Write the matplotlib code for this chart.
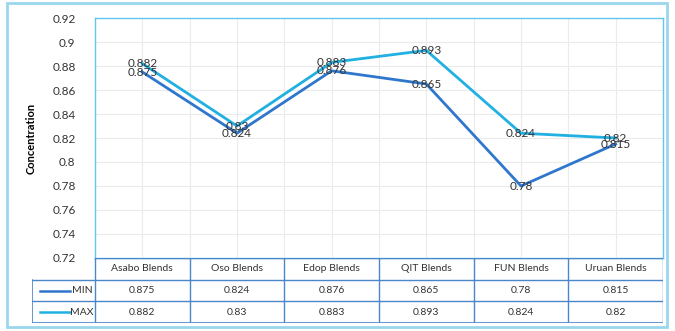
import matplotlib.pyplot as plt
from matplotlib.patches import Rectangle
from matplotlib.lines import Line2D

plt.rcParams["font.family"] = ["Lato", "DejaVu Sans"]

CATEGORIES = ["Asabo Blends", "Oso Blends", "Edop Blends", "QIT Blends", "FUN Blends", "Uruan Blends"]
MIN_VALS = [0.875, 0.824, 0.876, 0.865, 0.78, 0.815]
MAX_VALS = [0.882, 0.83, 0.883, 0.893, 0.824, 0.82]
SERIES = [("MIN", MIN_VALS, "#2f77cc"), ("MAX", MAX_VALS, "#21b0e2")]
YTICKS = [0.72, 0.74, 0.76, 0.78, 0.8, 0.82, 0.84, 0.86, 0.88, 0.9, 0.92]

W, H = 675, 331
fig = plt.figure(figsize=(W / 100, H / 100), dpi=100)


def box(x0, y0, x1, y1):
    # pixel box (top-left origin) -> figure fraction rect
    return [x0 / W, 1 - y1 / H, (x1 - x0) / W, (y1 - y0) / H]


# outer chart frame
fig.patches.append(Rectangle((7 / W, 4 / H), 660 / W, 324 / H, transform=fig.transFigure,
                             fill=False, edgecolor="#9ad6ee", linewidth=2))

ax = fig.add_axes(box(95, 18, 663, 258))
n = len(CATEGORIES)
xs = list(range(n))
for name, vals, color in SERIES:
    ax.plot(xs, vals, color=color, linewidth=2, zorder=3)
    for x, v in zip(xs, vals):
        ax.text(x, v, f"{v:g}", ha="center", va="center", fontsize=8.5, color="#333333", zorder=4)

ax.set_xlim(-0.5, n - 0.5)
ax.set_ylim(0.72, 0.92)
ax.set_yticks(YTICKS)
ax.set_yticklabels([f"{t:g}" for t in YTICKS], fontsize=8.5, color="#333333")
ax.tick_params(axis="y", length=0, pad=14)
ax.set_xticks([])
for v in YTICKS[1:-1]:
    ax.axhline(v, color="#ebebeb", linewidth=0.8, zorder=1)
for k in range(1, 2 * n):
    ax.axvline(-0.5 + k * 0.5, color="#ebebeb", linewidth=0.8, zorder=1)
for s in ax.spines.values():
    s.set_color("#62c6ee")
    s.set_linewidth(1)
ax.set_ylabel("Concentration", fontsize=8, fontweight="bold", labelpad=11)

# data table under the plot
left_w = (95 - 32) / ((663 - 95) / n)
tab = fig.add_axes(box(32, 258, 663, 323))
tab.set_xlim(-0.5 - left_w, n - 0.5)
tab.set_ylim(3, 0)
tab.axis("off")
grid_c = "#4a86c8"
tab.plot([-0.5 - left_w, n - 0.5], [1, 1], color=grid_c, lw=1)
tab.plot([-0.5 - left_w, n - 0.5], [2, 2], color=grid_c, lw=1)
tab.plot([-0.5 - left_w, n - 0.5], [3, 3], color=grid_c, lw=1.2)
tab.plot([-0.5, n - 0.5], [0, 0], color=grid_c, lw=1)
tab.plot([-0.5 - left_w] * 2, [1, 3], color=grid_c, lw=1.2)
for k in range(n + 1):
    tab.plot([-0.5 + k] * 2, [0, 3], color=grid_c, lw=1)
for i, c in enumerate(CATEGORIES):
    tab.text(i, 0.5, c, ha="center", va="center", fontsize=7.5, color="#333333")
for r, (name, vals, color) in enumerate(SERIES, start=1):
    tab.add_line(Line2D([-0.5 - left_w + 0.08, -0.5 - left_w + 0.4], [r + 0.5, r + 0.5],
                        color=color, lw=1.8))
    tab.text(-0.52, r + 0.5, name, ha="right", va="center", fontsize=7.5, color="#333333")
    for i, v in enumerate(vals):
        tab.text(i, r + 0.5, f"{v:g}", ha="center", va="center", fontsize=7.5, color="#333333")

fig.savefig("out.png", dpi=100)
